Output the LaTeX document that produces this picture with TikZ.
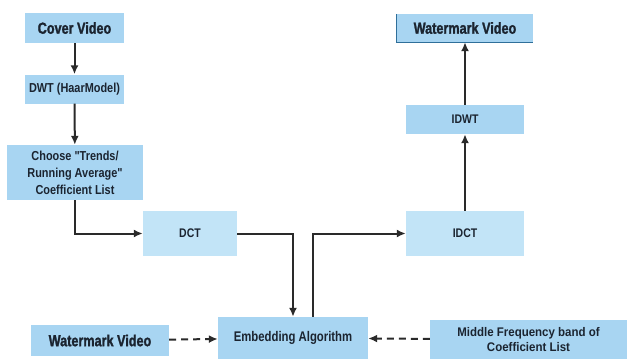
\documentclass[tikz,border=0pt]{standalone}
\usepackage{fontspec}
\setmainfont{Liberation Sans}[FakeStretch=0.86]
\newfontfamily\bigfont{Liberation Sans}[FakeStretch=0.79,FakeBold=1.5]
\newfontfamily\embfont{Liberation Sans}[FakeStretch=0.81]
\newfontfamily\midfont{Liberation Sans}[FakeStretch=0.92]
\newfontfamily\smfont{Liberation Sans}[FakeStretch=0.84]
\usetikzlibrary{arrows.meta,calc}
\definecolor{boxblue}{HTML}{A8D5F2}
\definecolor{lightblue}{HTML}{C2E4F7}
\definecolor{edgeblue}{HTML}{2F6F9A}
\definecolor{linegray}{HTML}{2A2A2A}
\definecolor{txt}{HTML}{1B2430}
\begin{document}
\begin{tikzpicture}[x=1pt,y=-1pt,
  box/.style={fill=boxblue,draw=none,inner sep=1pt,align=center,text=txt,font=\smfont\bfseries\fontsize{13}{17}\selectfont},
  lbox/.style={box,fill=lightblue},
  bigtxt/.style={font=\bigfont\bfseries\fontsize{16}{18}\selectfont},
  conn/.style={draw=linegray,line width=2pt,-{Latex[length=9pt,width=8pt]}},
  dconn/.style={conn,dash pattern=on 7pt off 5pt}]
\useasboundingbox (0,0) rectangle (627,359);
\node[box,bigtxt,minimum width=99pt,minimum height=30pt] (cover) at (74.5,28) {Cover Video};
\node[box,minimum width=99pt,minimum height=29pt] (dwt) at (74.5,89) {DWT (HaarModel)};
\node[box,minimum width=136pt,minimum height=55pt] (choose) at (75,172.5) {Choose "Trends/\\Running Average"\\Coefficient List};
\node[lbox,minimum width=94pt,minimum height=45pt,font=\smfont\bfseries\fontsize{12.5}{15}\selectfont] (dct) at (190,233.5) {DCT};
\node[box,minimum width=150pt,minimum height=42pt,font=\embfont\bfseries\fontsize{14}{16}\selectfont] (emb) at (293,338) {Embedding Algorithm};
\node[box,bigtxt,minimum width=138pt,minimum height=31pt] (wmin) at (100,340.5) {Watermark Video};
\node[box,minimum width=197pt,minimum height=39pt,font=\midfont\bfseries\fontsize{12.5}{15}\selectfont] (mid) at (528.5,339.5) {Middle Frequency band of\\Coefficient List};
\node[lbox,minimum width=118pt,minimum height=45pt,font=\smfont\bfseries\fontsize{12.5}{15}\selectfont] (idct) at (465,233.5) {IDCT};
\node[box,minimum width=118pt,minimum height=29pt,font=\smfont\bfseries\fontsize{12.5}{15}\selectfont] (idwt) at (465,119.5) {IDWT};
\node[box,bigtxt,minimum width=136pt,minimum height=28pt] (wmout) at (465,28) {Watermark Video};
\draw[edgeblue,line width=1.2pt] (wmout.north west) -- (wmout.south west) -- (wmout.south east);
\draw[conn] (cover) -- (dwt);
\draw[conn] (dwt) -- (choose);
\draw[conn] (choose.south) |- (dct.west);
\draw[conn] (dct.east) -| (emb.north);
\draw[conn] ($(emb.north)+(20,0)$) |- (idct.west);
\draw[conn] (idct) -- (idwt);
\draw[conn] (idwt) -- (wmout);
\draw[dconn] (wmin) -- (emb);
\draw[dconn] (mid) -- (emb);
\end{tikzpicture}
\end{document}
